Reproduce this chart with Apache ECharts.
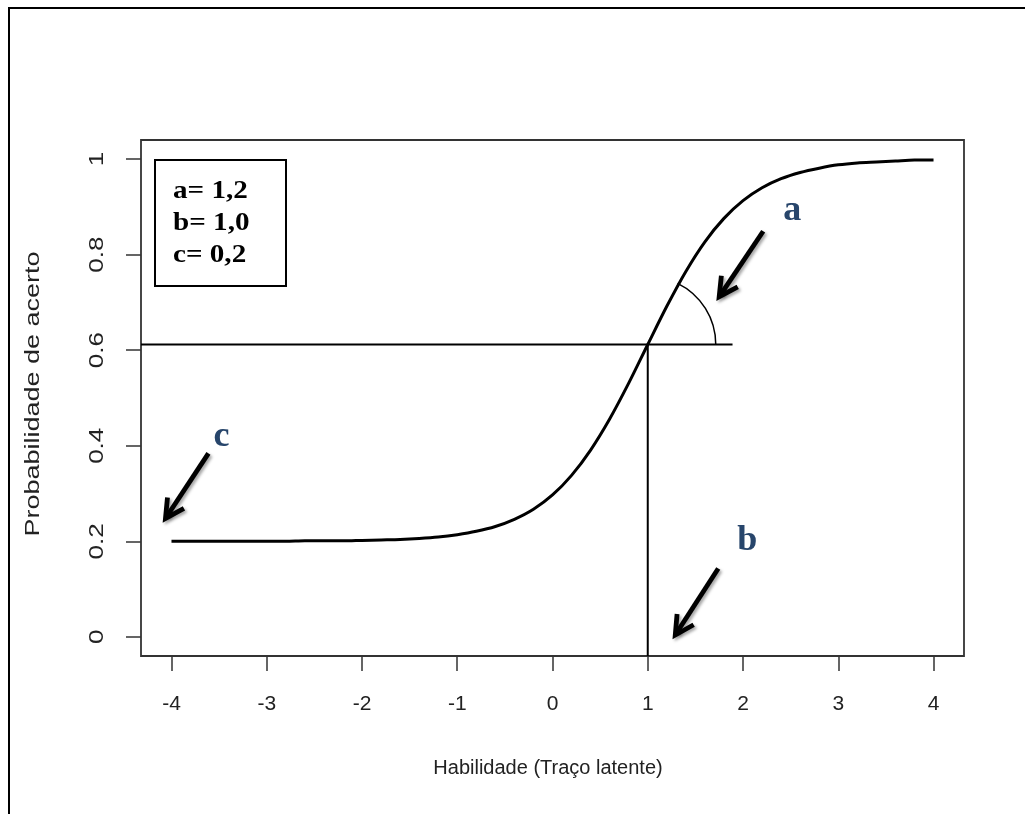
<!DOCTYPE html>
<html><head><meta charset="utf-8">
<script src="https://cdn.jsdelivr.net/npm/echarts@6/dist/echarts.min.js"></script>
<style>html,body{margin:0;padding:0;background:#fff}#c{width:1025px;height:814px}</style>
</head><body><div id="c"></div>
<script>
// Curve
const abilityValues = [-4,-3.8,-3.6,-3.4,-3.2,-3,-2.8,-2.6,-2.4,-2.2,-2,-1.8,-1.6,-1.4,-1.2,-1,-0.8,-0.6,-0.4,-0.2,0,0.2,0.4,0.6,0.8,1,1.2,1.4,1.6,1.8,2,2.2,2.4,2.6,2.8,3,3.2,3.4,3.6,3.8,4];
const probValues = [0.200,0.200,0.200,0.200,0.200,0.200,0.200,0.201,0.201,0.201,0.202,0.203,0.204,0.206,0.209,0.214,0.221,0.231,0.246,0.267,0.297,0.338,0.391,0.456,0.531,0.612,0.692,0.765,0.827,0.876,0.913,0.940,0.959,0.972,0.981,0.988,0.992,0.994,0.996,0.998,0.998];
const xTicks = [-4,-3,-2,-1,0,1,2,3,4];
const yTicks = [0,0.2,0.4,0.6,0.8,1];
const xTitle = 'Habilidade (Traço latente)';
const yTitle = 'Probabilidade de acerto';
// reference lines: point (b, P(b)) and end of horizontal line
const refPoint = [1, 0.612];
const hLineEndX = 1.89;
// annotation arrows (data coords)
const arrowStarts = [[2.212,0.849],[1.740,0.143],[-3.612,0.384]];
const arrowEnds   = [[1.750,0.712],[1.289,0.004],[-4.063,0.248]];
const letterNames = ['a','b','c'];
const letterPos   = [[2.516,0.893],[2.044,0.202],[-3.475,0.418]];
const legendLines = ['a= 1,2','b= 1,0','c= 0,2'];

const chart = echarts.init(document.getElementById('c'));
const X_MIN=-4.32, X_MAX=4.32, Y_MIN=-0.04, Y_MAX=1.04;
const fmt = v => String(Math.round(v*10)/10);
const SANS = '"Liberation Sans", Arial, sans-serif';
const SERIF = '"Liberation Serif", "DejaVu Serif", serif';

const arrowSeries = {
  type:'custom', silent:true, z:5, clip:false,
  data: arrowStarts.map((s,i)=>[s[0],s[1],arrowEnds[i][0],arrowEnds[i][1]]),
  renderItem:(params, api)=>{
    const s = api.coord([api.value(0),api.value(1)]);
    const e = api.coord([api.value(2),api.value(3)]);
    const dx=s[0]-e[0], dy=s[1]-e[1], L=Math.hypot(dx,dy);
    const ux=dx/L, uy=dy/L, ang=28*Math.PI/180, wl=21;
    const w1=[e[0]+wl*(ux*Math.cos(ang)-uy*Math.sin(ang)), e[1]+wl*(ux*Math.sin(ang)+uy*Math.cos(ang))];
    const w2=[e[0]+wl*(ux*Math.cos(-ang)-uy*Math.sin(-ang)), e[1]+wl*(ux*Math.sin(-ang)+uy*Math.cos(-ang))];
    const st={stroke:'#000',lineWidth:4.8,fill:null,shadowColor:'rgba(0,0,0,0.35)',shadowBlur:3,shadowOffsetX:2,shadowOffsetY:2};
    return {type:'group',children:[
      {type:'line',shape:{x1:s[0],y1:s[1],x2:e[0]+ux*2,y2:e[1]+uy*2},style:st},
      {type:'polyline',shape:{points:[w1,e,w2]},style:Object.assign({},st,{lineJoin:'miter'})}
    ]};
  }
};

const refSeries = {
  type:'custom', silent:true, z:4, clip:false,
  data:[[refPoint[0],refPoint[1],hLineEndX]],
  renderItem:(params, api)=>{
    const c = api.coord([api.value(0),api.value(1)]);
    const left = api.coord([X_MIN,api.value(1)]);
    const right = api.coord([api.value(2),api.value(1)]);
    const bottom = api.coord([api.value(0),Y_MIN]);
    const ls={stroke:'#000',lineWidth:2};
    return {type:'group',children:[
      {type:'line',shape:{x1:left[0],y1:c[1],x2:right[0],y2:c[1]},style:ls},
      {type:'line',shape:{x1:c[0],y1:c[1],x2:c[0],y2:bottom[1]},style:ls},
      {type:'arc',shape:{cx:c[0],cy:c[1],r:68,startAngle:-64*Math.PI/180,endAngle:0,clockwise:true},style:{stroke:'#000',lineWidth:1.5,fill:null}}
    ]};
  }
};

const letterSeries = {
  type:'custom', silent:true, z:6, clip:false,
  data: letterPos.map((p,i)=>[p[0],p[1],i]),
  renderItem:(params, api)=>{
    const p = api.coord([api.value(0),api.value(1)]);
    return {type:'text',x:p[0],y:p[1],style:{text:letterNames[api.value(2)],fill:'#27456b',font:'bold 36px '+SERIF,align:'center',verticalAlign:'middle'}};
  }
};

// y tick labels (rotated, elongated like the reference)
const yLabelSeries = {
  type:'custom', silent:true, z:6, clip:false,
  data: yTicks.map(v=>[X_MIN, v]),
  renderItem:(params, api)=>{
    const p = api.coord([api.value(0),api.value(1)]);
    return {type:'text',x:p[0]-44,y:p[1],rotation:Math.PI/2,scaleX:1.3,style:{text:fmt(api.value(1)),fill:'#222',font:'20px '+SANS,align:'center',verticalAlign:'middle'}};
  }
};

chart.setOption({
  animation:false,
  backgroundColor:'#fff',
  grid:{left:141,right:61,top:140,bottom:158,show:true,borderColor:'#333',borderWidth:1.8,backgroundColor:'transparent'},
  xAxis:{type:'value',min:X_MIN,max:X_MAX,position:'bottom',
    axisLine:{show:false,onZero:false},splitLine:{show:false},
    axisTick:{show:true,customValues:xTicks,length:15,lineStyle:{color:'#333',width:1.5}},
    axisLabel:{customValues:xTicks,formatter:fmt,margin:38,color:'#222',fontSize:21,fontFamily:SANS}},
  yAxis:{type:'value',min:Y_MIN,max:Y_MAX,position:'left',
    axisLine:{show:false,onZero:false},splitLine:{show:false},
    axisTick:{show:true,customValues:yTicks,length:15,lineStyle:{color:'#333',width:1.5}},
    axisLabel:{show:false}},
  graphic:[
    {type:'rect',shape:{x:9,y:8,width:1100,height:900},style:{fill:null,stroke:'#000',lineWidth:2},silent:true,z:0},
    {type:'rect',shape:{x:155,y:160,width:131,height:126},style:{fill:'#fff',stroke:'#000',lineWidth:2},z:10},
    {type:'text',x:173,y:191,scaleX:1.12,style:{text:legendLines[0],font:'bold 26px '+SERIF,fill:'#000',verticalAlign:'middle'},z:11},
    {type:'text',x:173,y:223,scaleX:1.12,style:{text:legendLines[1],font:'bold 26px '+SERIF,fill:'#000',verticalAlign:'middle'},z:11},
    {type:'text',x:173,y:255,scaleX:1.12,style:{text:legendLines[2],font:'bold 26px '+SERIF,fill:'#000',verticalAlign:'middle'},z:11},
    {type:'text',x:548,y:768,style:{text:xTitle,font:'20px '+SANS,fill:'#222',align:'center',verticalAlign:'middle'}},
    {type:'text',x:33,y:394,rotation:Math.PI/2,scaleX:1.35,style:{text:yTitle,font:'20px '+SANS,fill:'#222',align:'center',verticalAlign:'middle'}}
  ],
  series:[
    {type:'line',data:abilityValues.map((x,i)=>[x,probValues[i]]),smooth:0.3,showSymbol:false,lineStyle:{color:'#000',width:3},z:3},
    refSeries, arrowSeries, letterSeries, yLabelSeries
  ]
});
</script></body></html>
